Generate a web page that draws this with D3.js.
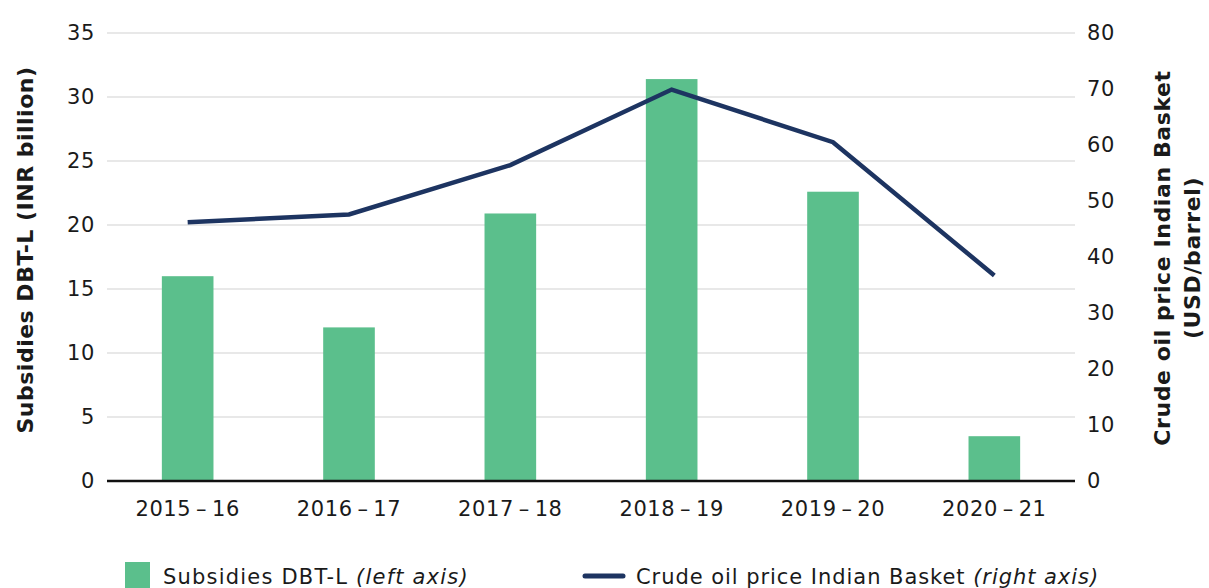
<!DOCTYPE html>
<html>
<head>
<meta charset="utf-8">
<script src="https://cdn.jsdelivr.net/npm/d3@7"></script>
<style>
  body { margin: 0; background: #fff; }
  svg { font-family: "DejaVu Sans", sans-serif; }
</style>
</head>
<body>
<script>
// data
var years = ["2015\u201316", "2016\u201317", "2017\u201318", "2018\u201319", "2019\u201320", "2020\u201321"];
var subsidies = [16.0, 12.0, 20.9, 31.4, 22.6, 3.5];
var crude = [46.2, 47.6, 56.4, 69.9, 60.5, 36.7];
var leftTicks = [0, 5, 10, 15, 20, 25, 30, 35];
var rightTicks = [0, 10, 20, 30, 40, 50, 60, 70, 80];

var w = 1209, h = 588;
var m = { left: 107, right: 1075, top: 33, bottom: 481 };
var font = "DejaVu Sans, sans-serif";

var svg = d3.select("body").append("svg")
    .attr("width", w)
    .attr("height", h);

var x = d3.scaleBand().domain(years).range([m.left, m.right]).paddingInner(0.68).paddingOuter(0.34);
var yL = d3.scaleLinear().domain([0, 35]).range([m.bottom, m.top]);
var yR = d3.scaleLinear().domain([0, 80]).range([m.bottom, m.top]);

// gridlines
svg.append("g").selectAll("line")
    .data(leftTicks.filter(function(d) { return d > 0; }))
  .enter().append("line")
    .attr("x1", m.left).attr("x2", m.right)
    .attr("y1", yL).attr("y2", yL)
    .attr("stroke", "#e0e0e0").attr("stroke-width", 1.5);

// bars
svg.append("g").selectAll("rect")
    .data(subsidies)
  .enter().append("rect")
    .attr("x", function(d, i) { return x(years[i]); })
    .attr("width", x.bandwidth())
    .attr("y", function(d) { return yL(d); })
    .attr("height", function(d) { return yL(0) - yL(d); })
    .attr("fill", "#5bbf8c");

// line
var line = d3.line()
    .x(function(d, i) { return x(years[i]) + x.bandwidth() / 2; })
    .y(function(d) { return yR(d); });

svg.append("path")
    .datum(crude)
    .attr("d", line)
    .attr("fill", "none")
    .attr("stroke", "#1d3461")
    .attr("stroke-width", 4.5);

// baseline
svg.append("line")
    .attr("x1", m.left).attr("x2", m.right)
    .attr("y1", m.bottom).attr("y2", m.bottom)
    .attr("stroke", "#111").attr("stroke-width", 2.5);

// axes
var axL = svg.append("g")
    .attr("transform", "translate(" + m.left + ",0)")
    .call(d3.axisLeft(yL).tickValues(leftTicks).tickSize(0).tickPadding(12));
var axR = svg.append("g")
    .attr("transform", "translate(" + m.right + ",0)")
    .call(d3.axisRight(yR).tickValues(rightTicks).tickSize(0).tickPadding(12));
var axB = svg.append("g")
    .attr("transform", "translate(0," + m.bottom + ")")
    .call(d3.axisBottom(x).tickSize(0).tickPadding(20)
      .tickFormat(function(d) { return d.replace("\u2013", "\u2009\u2013\u2009"); }));

[axL, axR, axB].forEach(function(a) {
  a.select(".domain").remove();
  a.selectAll("text").attr("font-size", 21).attr("fill", "#1a1a1a")
    .attr("letter-spacing", 0.6)
    .style("font-family", font);
});

// axis titles
svg.append("text")
    .attr("transform", "translate(33,250) rotate(-90)")
    .attr("text-anchor", "middle")
    .attr("font-size", 22).attr("font-weight", "bold").attr("fill", "#1a1a1a")
    .attr("letter-spacing", 0.5)
    .text("Subsidies DBT-L (INR billion)");

var rt = svg.append("text")
    .attr("transform", "translate(1170,258) rotate(-90)")
    .attr("text-anchor", "middle")
    .attr("font-size", 22).attr("font-weight", "bold").attr("fill", "#1a1a1a")
    .attr("letter-spacing", 0.6);
rt.append("tspan").attr("x", 0).attr("dy", 0).text("Crude oil price Indian Basket");
rt.append("tspan").attr("x", 0).attr("dy", 30).text("(USD/barrel)");

// legend
var lg = svg.append("g");
lg.append("rect").attr("x", 125).attr("y", 562).attr("width", 25).attr("height", 26).attr("fill", "#5bbf8c");
var t1 = lg.append("text").attr("x", 163).attr("y", 584).attr("font-size", 21).attr("fill", "#1a1a1a")
    .attr("letter-spacing", 1.2);
t1.append("tspan").text("Subsidies DBT-L ");
t1.append("tspan").attr("font-style", "italic").text("(left axis)");

lg.append("line").attr("x1", 585).attr("x2", 623).attr("y1", 576).attr("y2", 576)
    .attr("stroke", "#1d3461").attr("stroke-width", 5).attr("stroke-linecap", "round");
var t2 = lg.append("text").attr("x", 636).attr("y", 584).attr("font-size", 21).attr("fill", "#1a1a1a")
    .attr("letter-spacing", 0.95);
t2.append("tspan").text("Crude oil price Indian Basket ");
t2.append("tspan").attr("font-style", "italic").text("(right axis)");
</script>
</body>
</html>
